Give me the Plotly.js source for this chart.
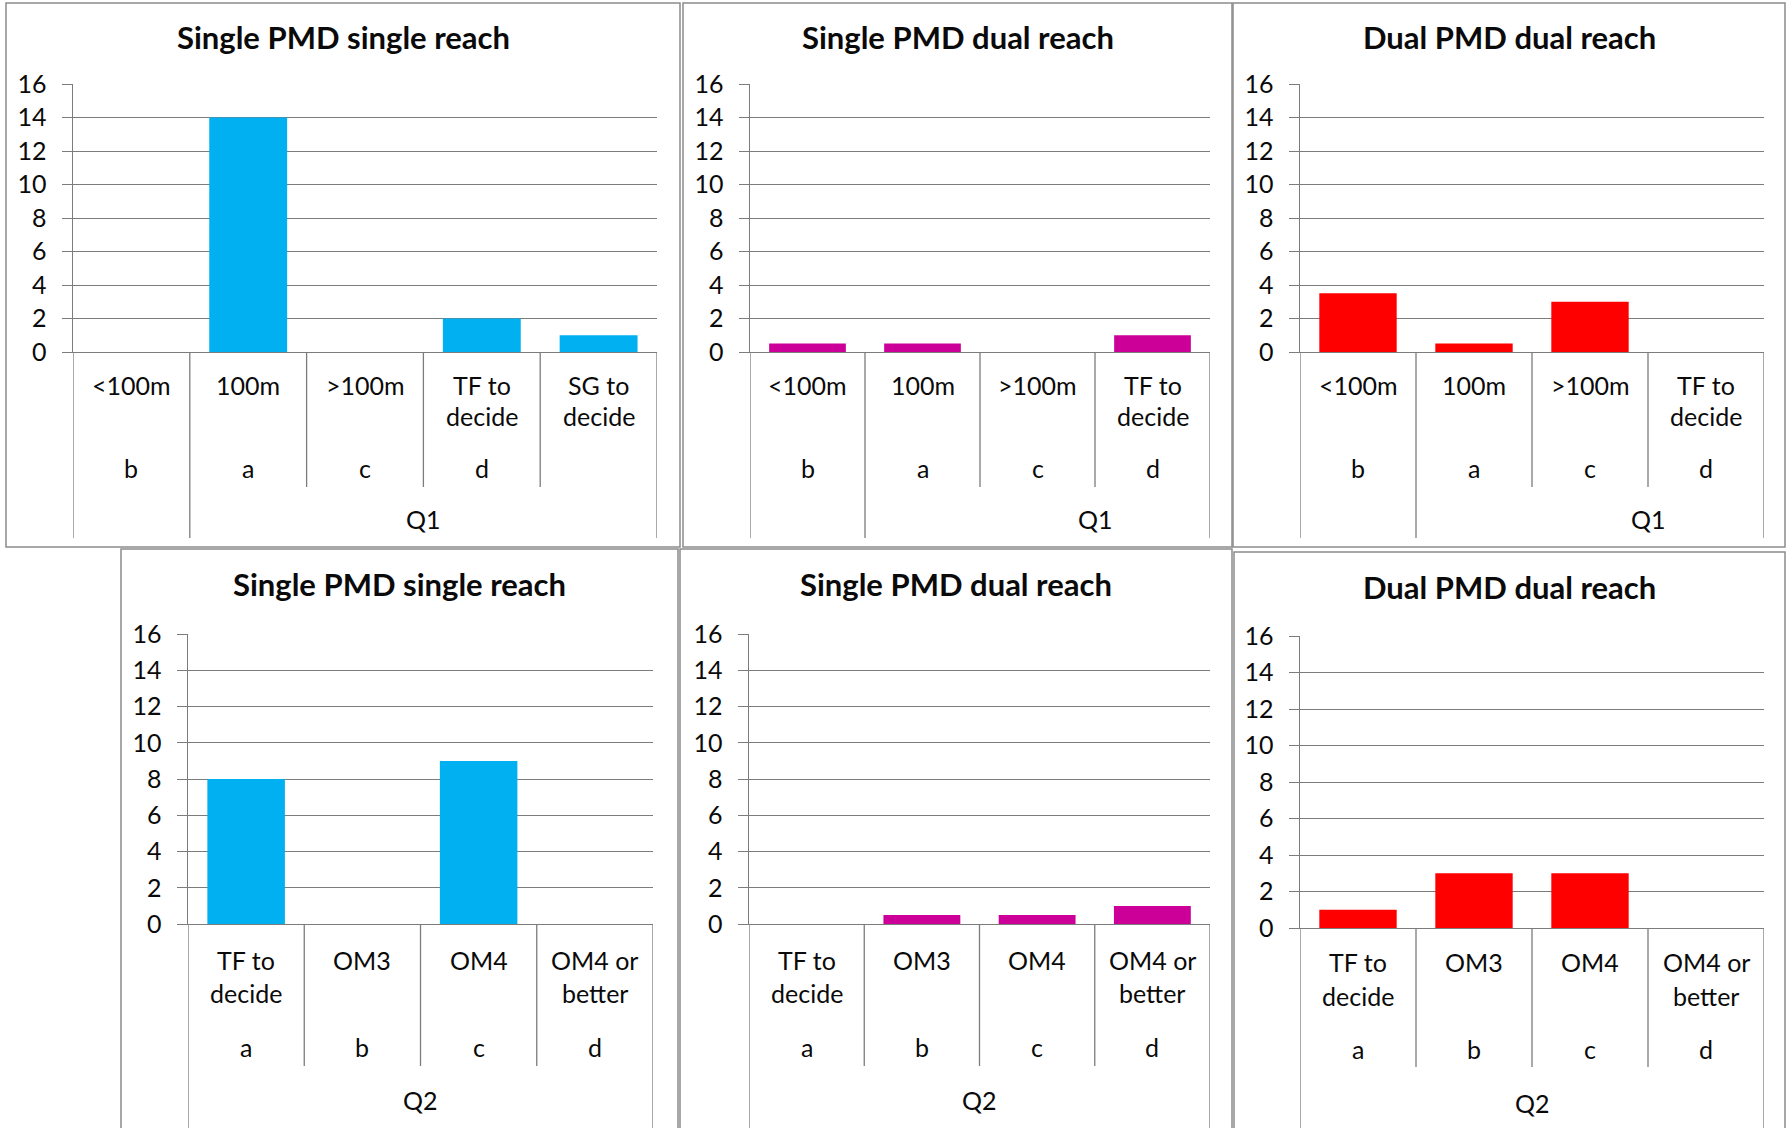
<!DOCTYPE html>
<html>
<head>
<meta charset="utf-8">
<script src="https://cdn.plot.ly/plotly-3.0.1.min.js"></script>
<style>
html,body{margin:0;padding:0;background:#fff;}
#chart{width:1787px;height:1128px;}
</style>
</head>
<body>
<div id="chart"></div>
<script>
// ---------- DATA ----------
const titles = ['Single PMD single reach', 'Single PMD dual reach', 'Dual PMD dual reach',
                'Single PMD single reach', 'Single PMD dual reach', 'Dual PMD dual reach'];

const q1Cats5 = ['<100m', '100m', '>100m', 'TF to<br>decide', 'SG to<br>decide'];
const q1Letters5 = ['b', 'a', 'c', 'd', ''];
const q1Cats4 = ['<100m', '100m', '>100m', 'TF to<br>decide'];
const q1Letters4 = ['b', 'a', 'c', 'd'];
const q2Cats = ['TF to<br>decide', 'OM3', 'OM4', 'OM4 or<br>better'];
const q2Letters = ['a', 'b', 'c', 'd'];

const groupQ1 = 'Q1';
const groupQ2 = 'Q2';
// group spans as category index ranges (Q1 groups include the "SG to decide" slot)
const q1Span = [1, 4];
const q2Span = [0, 3];

const singleSingleQ1 = [0, 14, 0, 2, 1];
const singleDualQ1 = [0.5, 0.5, 0, 1];
const dualDualQ1 = [3.5, 0.5, 3, 0];
const singleSingleQ2 = [8, 0, 9, 0];
const singleDualQ2 = [0, 0.5, 0.5, 1];
const dualDualQ2 = [1, 3, 3, 0];

const yTicks = [0, 2, 4, 6, 8, 10, 12, 14, 16];

// ---------- STYLE / GEOMETRY ----------
const W = 1787, H = 1128;
const px = v => v / W;
const py = v => 1 - v / H;
const BLUE = '#00B0F0', MAGENTA = '#CC0099', RED = '#FF0000';
const GRID = '#7c7c7c', BORDER = '#8c8c8c', TXT = '#0a0a0a';
const FONT = 'Lato, "Open Sans", sans-serif';
const FS = 25;

const panels = [
  {cats: q1Cats5, letters: q1Letters5, values: singleSingleQ1, color: BLUE, group: groupQ1, span: q1Span,
   box: [6, 3, 680, 547], plot: [73, 84, 657, 352], rows: [385, 416, 468, 519], shortEnd: 487, longEnd: 538, title: 37},
  {cats: q1Cats4, letters: q1Letters4, values: singleDualQ1, color: MAGENTA, group: groupQ1, span: q1Span,
   box: [683, 3, 1232, 547], plot: [750, 84, 1210, 352], rows: [385, 416, 468, 519], shortEnd: 487, longEnd: 538, title: 37},
  {cats: q1Cats4, letters: q1Letters4, values: dualDualQ1, color: RED, group: groupQ1, span: q1Span,
   box: [1233, 3, 1785, 547], plot: [1300, 84, 1764, 352], rows: [385, 416, 468, 519], shortEnd: 487, longEnd: 538, title: 37},
  {cats: q2Cats, letters: q2Letters, values: singleSingleQ2, color: BLUE, group: groupQ2, span: q2Span,
   box: [121, 549, 678, 1140], plot: [188, 634, 653, 924], rows: [960, 993, 1047, 1100], shortEnd: 1066, longEnd: 1140, title: 584},
  {cats: q2Cats, letters: q2Letters, values: singleDualQ2, color: MAGENTA, group: groupQ2, span: q2Span,
   box: [680, 549, 1232, 1140], plot: [749, 634, 1210, 924], rows: [960, 993, 1047, 1100], shortEnd: 1066, longEnd: 1140, title: 584},
  {cats: q2Cats, letters: q2Letters, values: dualDualQ2, color: RED, group: groupQ2, span: q2Span,
   box: [1234, 552, 1785, 1140], plot: [1300, 636, 1764, 928], rows: [962, 996, 1049, 1103], shortEnd: 1067, longEnd: 1140, title: 587}
];

const data = [];
const layout = {
  width: W, height: H,
  margin: {l: 0, r: 0, t: 0, b: 0},
  paper_bgcolor: '#fff', plot_bgcolor: '#fff',
  showlegend: false,
  font: {family: FONT, color: TXT, size: FS},
  annotations: [], shapes: []
};

panels.forEach((p, k) => {
  const n = k + 1;
  const xa = 'x' + (n === 1 ? '' : n), ya = 'y' + (n === 1 ? '' : n);
  const xKey = 'xaxis' + (n === 1 ? '' : n), yKey = 'yaxis' + (n === 1 ? '' : n);
  const nc = p.cats.length;

  data.push({
    type: 'bar', x: p.cats.map((c, i) => i), y: p.values,
    xaxis: xa, yaxis: ya, width: 0.667,
    marker: {color: p.color, line: {width: 0}},
    hoverinfo: 'skip'
  });

  layout[xKey] = {
    domain: [px(p.plot[0]), px(p.plot[2])], anchor: ya,
    range: [-0.5, nc - 0.5], showticklabels: false, showgrid: false, zeroline: false,
    showline: true, linecolor: GRID, linewidth: 1.4, ticks: '', fixedrange: true
  };
  layout[yKey] = {
    domain: [py(p.plot[3]), py(p.plot[1])], anchor: xa,
    range: [0, 16], tickmode: 'array', tickvals: yTicks, ticktext: yTicks.map(String),
    showgrid: true, gridcolor: GRID, gridwidth: 1, zeroline: false,
    showline: true, linecolor: GRID, linewidth: 1.4,
    ticks: 'outside', ticklen: 10, tickcolor: GRID, tickwidth: 1,
    ticklabelstandoff: 10,
    tickfont: {family: FONT, size: FS, color: TXT}, fixedrange: true
  };

  // panel border
  layout.shapes.push({type: 'rect', xref: 'paper', yref: 'paper',
    x0: px(p.box[0]), x1: px(p.box[2]), y0: py(p.box[3]), y1: py(p.box[1]),
    line: {color: BORDER, width: 1.5}, fillcolor: 'rgba(0,0,0,0)', layer: 'below'});

  // category dividers
  for (let i = 0; i <= nc; i++) {
    const isLong = (i === 0 || i === nc || i === p.span[0]);
    layout.shapes.push({type: 'line', xref: xa, yref: 'paper',
      x0: i - 0.5, x1: i - 0.5, y0: py(p.plot[3]), y1: py(isLong ? p.longEnd : p.shortEnd),
      line: {color: GRID, width: 1.3}});
  }

  // category labels (level 1, possibly two lines) and letters (level 2)
  p.cats.forEach((c, i) => {
    const lines = c.split('<br>');
    lines.forEach((ln, j) => {
      layout.annotations.push({xref: xa, yref: 'paper', x: i, y: py(p.rows[j]),
        text: ln, showarrow: false, xanchor: 'center', yanchor: 'middle',
        font: {family: FONT, size: FS, color: TXT}});
    });
    if (p.letters[i]) {
      layout.annotations.push({xref: xa, yref: 'paper', x: i, y: py(p.rows[2]),
        text: p.letters[i], showarrow: false, xanchor: 'center', yanchor: 'middle',
        font: {family: FONT, size: FS, color: TXT}});
    }
  });

  // group label (level 3)
  layout.annotations.push({xref: xa, yref: 'paper', x: (p.span[0] + p.span[1]) / 2, y: py(p.rows[3]),
    text: p.group, showarrow: false, xanchor: 'center', yanchor: 'middle',
    font: {family: FONT, size: FS, color: TXT}});

  // title
  layout.annotations.push({xref: 'paper', yref: 'paper',
    x: px((p.box[0] + p.box[2]) / 2), y: py(p.title),
    text: '<b>' + titles[k] + '</b>', showarrow: false, xanchor: 'center', yanchor: 'middle',
    font: {family: FONT, size: 31, color: TXT}});
});

Plotly.newPlot('chart', data, layout, {staticPlot: true, displayModeBar: false});
</script>
</body>
</html>
